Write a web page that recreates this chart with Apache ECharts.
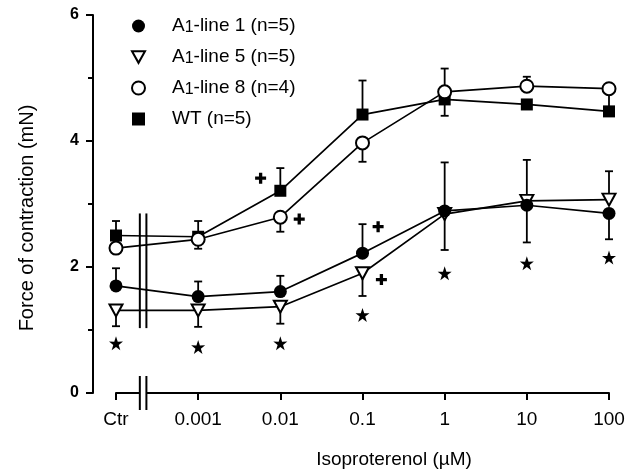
<!DOCTYPE html>
<html>
<head>
<meta charset="utf-8">
<script src="https://cdn.jsdelivr.net/npm/echarts@6/dist/echarts.min.js"></script>
<style>
  html, body { margin: 0; padding: 0; background: #fff; }
  #chart { width: 638px; height: 473px; }
</style>
</head>
<body>
<div id="chart"></div>
<script>
// x positions are category indices: Ctr, then the isoproterenol doses
const doseLabels = ["Ctr", "0.001", "0.01", "0.1", "1", "10", "100"];

// means (mN) and the end of each drawn error bar
const line1 = [1.70, 1.53, 1.61, 2.22, 2.89, 2.98, 2.85];
const line1Tip = [1.98, 1.77, 1.86, 2.68, 3.66, 2.39, 2.44];
const line5 = [1.31, 1.31, 1.37, 1.90, 2.84, 3.05, 3.07];
const line5Tip = [1.06, 1.05, 1.10, 1.54, 2.27, 3.70, 3.52];
const line8 = [2.30, 2.44, 2.79, 3.97, 4.78, 4.87, 4.83];
const line8Tip = [2.22, 2.29, 2.56, 3.67, 5.15, 5.02, 4.83];
const wt = [2.50, 2.48, 3.21, 4.42, 4.66, 4.58, 4.47];
const wtTip = [2.73, 2.73, 3.57, 4.96, 4.40, 4.52, 4.75];

// significance marks
const starY = [0.79, 0.73, 0.79, 1.24, 1.90, 2.06, 2.15];
const plusX = [1.76, 2.23, 3.19, 3.23];
const plusY = [3.41, 2.76, 2.64, 1.80];

// axis break (between Ctr and 0.001)
const breakX = [0.29, 0.37];
const breakSpans = [[1.03, 2.85], [-0.27, 0.27]];

const FONT = "Liberation Sans, Arial, sans-serif";
const names = ["A1-line 1 (n=5)", "A1-line 5 (n=5)", "A1-line 8 (n=4)", "WT (n=5)"];
const TRI_DOWN = "path://M0,0 L10,0 L5,9 Z";

const pts = arr => arr.map((v, i) => [i, v]);
const errRows = (vals, tips) => vals.map((v, i) => [i, v, tips[i]]);

function errorBar(params, api) {
  const p1 = api.coord([api.value(0), api.value(1)]);
  const p2 = api.coord([api.value(0), api.value(2)]);
  const st = { stroke: "#000", lineWidth: 1.8 };
  return {
    type: "group",
    children: [
      { type: "line", shape: { x1: p1[0], y1: p1[1], x2: p2[0], y2: p2[1] }, style: st },
      { type: "line", shape: { x1: p2[0] - 4, y1: p2[1], x2: p2[0] + 4, y2: p2[1] }, style: st },
    ],
  };
}

function axisBreak(params, api) {
  const a = api.coord([api.value(0), api.value(3)]);
  const b = api.coord([api.value(1), api.value(2)]);
  const st = { stroke: "#000", lineWidth: 2 };
  return {
    type: "group",
    children: [
      { type: "rect", shape: { x: a[0], y: a[1], width: b[0] - a[0], height: b[1] - a[1] }, style: { fill: "#fff" } },
      { type: "line", shape: { x1: a[0], y1: a[1], x2: a[0], y2: b[1] }, style: st },
      { type: "line", shape: { x1: b[0], y1: a[1], x2: b[0], y2: b[1] }, style: st },
    ],
  };
}

const chart = echarts.init(document.getElementById("chart"), null, { renderer: "canvas" });

const lineSeries = (name, data, symbol, size, filled, z) => ({
  name: name,
  type: "line",
  data: pts(data),
  symbol: symbol,
  symbolSize: size,
  z: z,
  lineStyle: { color: "#000", width: 1.7 },
  itemStyle: filled ? { color: "#000", borderWidth: 0 } : { color: "#fff", borderColor: "#000", borderWidth: 2 },
  emphasis: { disabled: true },
});

const errSeries = (vals, tips) => ({
  type: "custom",
  renderItem: errorBar,
  data: errRows(vals, tips),
  encode: { x: 0, y: [1, 2] },
  z: 1,
  silent: true,
});

chart.setOption({
  animation: false,
  grid: { left: 116, right: 29, top: 15, bottom: 80 },
  xAxis: {
    type: "value",
    min: 0,
    max: 6,
    interval: 1,
    axisLine: { lineStyle: { color: "#000", width: 2 } },
    axisTick: { length: 7, lineStyle: { color: "#000", width: 2 } },
    axisLabel: {
      formatter: v => doseLabels[v],
      color: "#000",
      fontFamily: FONT,
      fontSize: 19,
      margin: 17,
    },
    splitLine: { show: false },
  },
  yAxis: {
    type: "value",
    min: 0,
    max: 6,
    interval: 2,
    offset: 23,
    axisLine: { show: true, onZero: false, lineStyle: { color: "#000", width: 2 } },
    axisTick: { show: true, length: 7, lineStyle: { color: "#000", width: 2 } },
    minorTick: { show: true, splitNumber: 2, length: 5, lineStyle: { color: "#000", width: 2 } },
    axisLabel: { color: "#000", fontFamily: FONT, fontSize: 16, fontWeight: "bold", margin: 14 },
    splitLine: { show: false },
  },
  legend: {
    orient: "vertical",
    left: 126,
    top: 11,
    itemWidth: 13,
    itemHeight: 13,
    itemGap: 11,
    selectedMode: false,
    data: [
      { name: names[0], icon: "circle" },
      { name: names[1], icon: TRI_DOWN },
      { name: names[2], icon: "circle" },
      { name: names[3], icon: "rect" },
    ],
    formatter: n => n.replace(/^A1/, "A{sub|1}"),
    textStyle: {
      color: "#000",
      fontFamily: FONT,
      fontSize: 19,
      lineHeight: 20,
      padding: [0, 0, 0, 22],
      rich: {
        sub: { fontFamily: FONT, fontSize: 16, color: "#000", padding: [10, 0, 0, 0], verticalAlign: "bottom" },
      },
    },
  },
  graphic: [
    {
      type: "text",
      x: 394,
      y: 460,
      style: { text: "Isoproterenol (µM)", fill: "#000", font: "19px " + FONT, textAlign: "center", textVerticalAlign: "middle" },
    },
    {
      type: "text",
      x: 27,
      y: 218,
      rotation: Math.PI / 2,
      style: { text: "Force of contraction (mN)", fill: "#000", font: "20px " + FONT, textAlign: "center", textVerticalAlign: "middle" },
    },
  ],
  series: [
    errSeries(line5, line5Tip),
    errSeries(line1, line1Tip),
    errSeries(wt, wtTip),
    errSeries(line8, line8Tip),
    {
      type: "custom",
      renderItem: axisBreak,
      data: breakSpans.map(s => [breakX[0], breakX[1], s[0], s[1]]),
      encode: { x: [0, 1], y: [2, 3] },
      clip: false,
      z: 3,
      silent: true,
    },
    lineSeries(names[1], line5, TRI_DOWN, [13, 12], false, 4),
    lineSeries(names[0], line1, "circle", 13, true, 5),
    lineSeries(names[3], wt, "rect", 12, true, 6),
    lineSeries(names[2], line8, "circle", 13, false, 7),
    {
      type: "scatter",
      data: pts(starY),
      symbol: "path://M50,0 L61.8,35.5 L97.6,34.5 L68.5,56.3 L79.4,90.5 L50,69.6 L20.6,90.5 L31.5,56.3 L2.4,34.5 L38.2,35.5 Z",
      symbolSize: 14,
      itemStyle: { color: "#000", opacity: 1 },
      silent: true,
      z: 8,
    },
    {
      type: "scatter",
      data: plusX.map((x, i) => [x, plusY[i]]),
      symbol: "path://M3.5,0 h3 v3.5 h3.5 v3 h-3.5 v3.5 h-3 v-3.5 h-3.5 v-3 h3.5 z",
      symbolSize: 11,
      itemStyle: { color: "#000", opacity: 1 },
      silent: true,
      z: 8,
    },
  ],
});
</script>
</body>
</html>
